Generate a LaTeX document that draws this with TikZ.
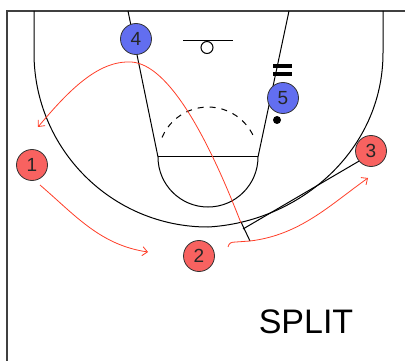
\documentclass[tikz,border=0pt]{standalone}
\usepackage{fontspec}
\setmainfont{Liberation Sans}
\usetikzlibrary{arrows.meta}
\definecolor{offred}{RGB}{248,98,96}
\definecolor{defblue}{RGB}{98,110,240}
\definecolor{cutred}{RGB}{255,62,40}
\tikzset{
  court/.style={line width=1pt},
  offense/.style={circle, draw=black!80, line width=0.8pt, fill=offred, minimum size=31pt, inner sep=0pt, font=\fontsize{19}{19}\selectfont, text=black!85},
  defense/.style={offense, fill=defblue},
  move/.style={cutred, line width=0.8pt, ->},
}
\begin{document}
\begin{tikzpicture}[x=1pt, y=-1pt, >={Straight Barb[length=5pt,width=9pt]}]
  \useasboundingbox (0,0) rectangle (405,361);
  % border
  \draw[black!75, line width=1.8pt] (7,361) -- (7,11) -- (405,11);

  % three point line
  \draw[court] (34,11) -- (34,53) arc[start angle=180, end angle=90, radius=174]
    .. controls (300,222) and (383,150) .. (383,53) -- (383,11);

  % lane and free throw circle
  \draw[court] (128,11) -- (158,157) arc[start angle=180, end angle=0, radius=50] -- (289,11);
  \draw[court] (158,157) -- (258,157);
  \draw[court, dash pattern=on 6pt off 6pt] (162,137.5) arc[start angle=203, end angle=337, radius=50];

  % basket
  \draw[court] (183,41) -- (233,41);
  \draw[court, fill=white] (207,47.5) circle[radius=6];

  % players
  \node[defense] (p4) at (136,39) {4};
  \node[defense] (p5) at (283,98) {5};
  \node[offense] (p1) at (32,165) {1};
  \node[offense] (p2) at (199,256) {2};
  \node[offense] (p3) at (371,151) {3};

  % screen and ball
  \draw[line width=3.5pt] (273,66) -- (292,66) (273,74) -- (292,74);
  \node[circle, fill, inner sep=0pt, minimum size=8pt] (ball) at (277,120) {};

  % pass
  \coordinate (hand) at (243,229);
  \draw[court] (p3.220) -- (hand);
  \draw[court] (241,222) -- (250,241);

  % cuts
  \coordinate (cut) at (241,223);
  \coordinate (wing) at (38,127);
  \draw[move] (cut) .. controls (205,130) and (165,60) .. (128,62)
    .. controls (95,62) and (65,95) .. (wing);
  \coordinate (start1) at (40,185);
  \coordinate (spot2) at (148,252);
  \draw[move] (start1) .. controls (75,215) and (100,245) .. (spot2);
  \coordinate (start2) at (228,247);
  \coordinate (spot3) at (368,178);
  \draw[move] (start2) .. controls (229,243) and (231,242) .. (236,242) -- (250,241)
    .. controls (300,235) and (330,205) .. (spot3);

  \node[font=\fontsize{34}{34}\selectfont] (title) at (306,322) {SPLIT};
\end{tikzpicture}
\end{document}
